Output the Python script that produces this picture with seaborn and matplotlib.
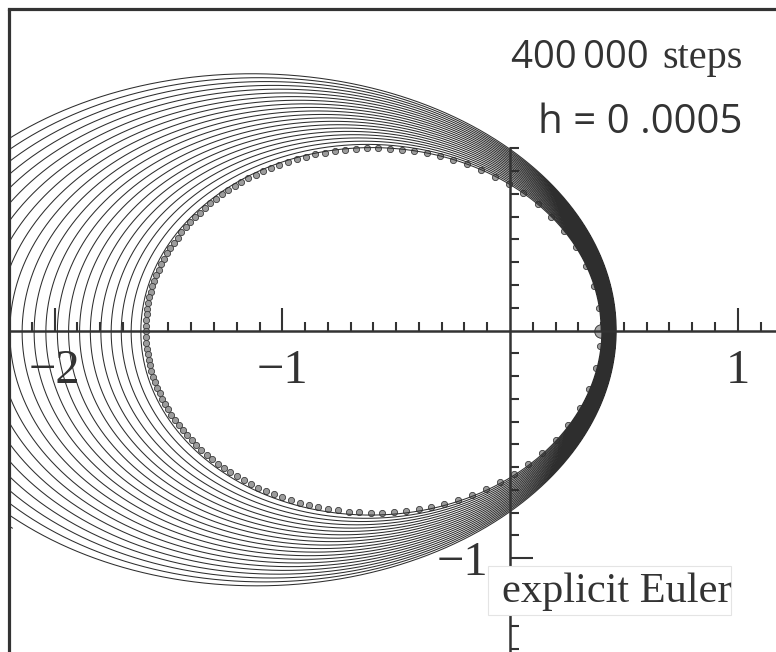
import numpy as np
import pandas as pd
import seaborn as sns
import matplotlib.pyplot as plt
from matplotlib.lines import Line2D
from matplotlib.patches import Rectangle

# Kepler problem with eccentricity e, started in the perihelion
eccentricity = 0.6
q_start = [1.0 - eccentricity, 0.0]
p_start = [0.0, np.sqrt((1.0 + eccentricity) / (1.0 - eccentricity))]
step_size = 0.0005
n_steps = 400000

# dots of the exact orbit, equally spaced in time
dot_time_spacing = 0.05
n_exact_dots = 126

x_major = [-2, -1, 1]
x_labels = ["\u22122", "\u22121", "1"]
y_major = [-1]
y_labels = ["\u22121"]
x_minor = np.round(np.arange(-2.1, 1.15, 0.1), 1)
y_minor = np.round(np.arange(-1.4, 0.85, 0.1), 1)

title_steps = "400\u2009000"
title_steps_word = "steps"
title_h = "h = 0 .0005"
method_name = "explicit Euler"

INK = "#333333"


def explicit_euler(q0, p0, h, n):
    q1, q2 = q0
    p1, p2 = p0
    xs = np.empty(n + 1)
    ys = np.empty(n + 1)
    xs[0], ys[0] = q1, q2
    for i in range(1, n + 1):
        r3 = (q1 * q1 + q2 * q2) ** 1.5
        q1, q2, p1, p2 = q1 + h * p1, q2 + h * p2, p1 - h * q1 / r3, p2 - h * q2 / r3
        xs[i] = q1
        ys[i] = q2
    return xs, ys


def exact_orbit(e, times):
    ecc_anom = times.copy()
    for _ in range(50):
        ecc_anom = ecc_anom - (ecc_anom - e * np.sin(ecc_anom) - times) / (1 - e * np.cos(ecc_anom))
    return np.cos(ecc_anom) - e, np.sqrt(1 - e * e) * np.sin(ecc_anom)


euler_x, euler_y = explicit_euler(q_start, p_start, step_size, n_steps)
traj = pd.DataFrame({"x": euler_x[::2], "y": euler_y[::2]})

t_dots = np.arange(n_exact_dots) * dot_time_spacing
ex_x, ex_y = exact_orbit(eccentricity, t_dots)
exact = pd.DataFrame({"x": ex_x, "y": ex_y})
start = pd.DataFrame({"x": [q_start[0]], "y": [q_start[1]]})

sns.set_theme(style="white")
plt.rcParams["font.family"] = ["Liberation Serif", "DejaVu Serif"]

W, H = 776, 652
fig = plt.figure(figsize=(W / 100, H / 100), dpi=100)
ax = fig.add_axes([9 / W, 0, 1 - 9 / W, 1 - 9 / H])

sns.scatterplot(data=exact, x="x", y="y", s=20, color="#9c9c9c", edgecolor="#3c3c3c",
                linewidth=0.6, zorder=1, ax=ax, legend=False)
sns.scatterplot(data=start, x="x", y="y", s=95, color="#a8a8a8", edgecolor="#3c3c3c",
                linewidth=0.7, zorder=1, ax=ax, legend=False)
sns.lineplot(data=traj, x="x", y="y", sort=False, estimator=None, color="#2e2e2e",
             lw=0.75, zorder=2, ax=ax, legend=False)

ax.set_xlim(-2.2, 1.168)
ax.set_ylim(-1.412, 1.412)
ax.set_xlabel("")
ax.set_ylabel("")

# coordinate axes through the origin
ax.spines["bottom"].set_position(("data", 0))
ax.spines["left"].set_position(("data", 0))
ax.spines["left"].set_bounds(-1.412, 0.8)
ax.spines["right"].set_visible(False)
for side in ("bottom", "left"):
    ax.spines[side].set_color(INK)
    ax.spines[side].set_linewidth(1.8)
    ax.spines[side].set_zorder(3)
ax.spines["top"].set_color(INK)
ax.spines["top"].set_linewidth(2.3)
ax.add_line(Line2D([0, 0], [0, 1], transform=ax.transAxes, color=INK, lw=2.3,
                   clip_on=False, zorder=4))

ax.set_xticks(x_major)
ax.set_xticklabels(x_labels)
ax.set_xticks([v for v in x_minor if v not in x_major and v != 0], minor=True)
ax.set_yticks(y_major)
ax.set_yticklabels(y_labels)
ax.set_yticks([v for v in y_minor if v not in y_major and v != 0], minor=True)
ax.tick_params(which="both", direction="in", color=INK, width=1.5, labelcolor=INK,
               labelsize=35)
ax.tick_params(which="major", length=16.5)
ax.tick_params(which="minor", length=6.5)
ax.tick_params(axis="x", pad=13)
ax.tick_params(axis="y", pad=16)
ax.xaxis.set_ticks_position("bottom")
ax.yaxis.set_ticks_position("left")

# method label on a white card covering the axis
fig.add_artist(Rectangle((488 / W, 1 - 615 / H), (731 - 488) / W, (615 - 566) / H,
                         transform=fig.transFigure, fc="white", ec="#e4e4e4", lw=0.8,
                         zorder=5))
fig.text(616.5 / W, 1 - 602 / H, method_name, ha="center", va="baseline", fontsize=30.5,
         color=INK, zorder=6)

sans = ["Open Sans", "DejaVu Sans"]
fig.text(743 / W, 1 - 68 / H, title_steps_word, ha="right", va="baseline", fontsize=29,
         color=INK, family=["Liberation Serif"])
fig.text(649 / W, 1 - 68 / H, title_steps, ha="right", va="baseline", fontsize=27.5,
         color=INK, family=sans)
fig.text(743 / W, 1 - 133 / H, title_h, ha="right", va="baseline", fontsize=29,
         color=INK, family=sans)

fig.savefig("out.png", dpi=100)
